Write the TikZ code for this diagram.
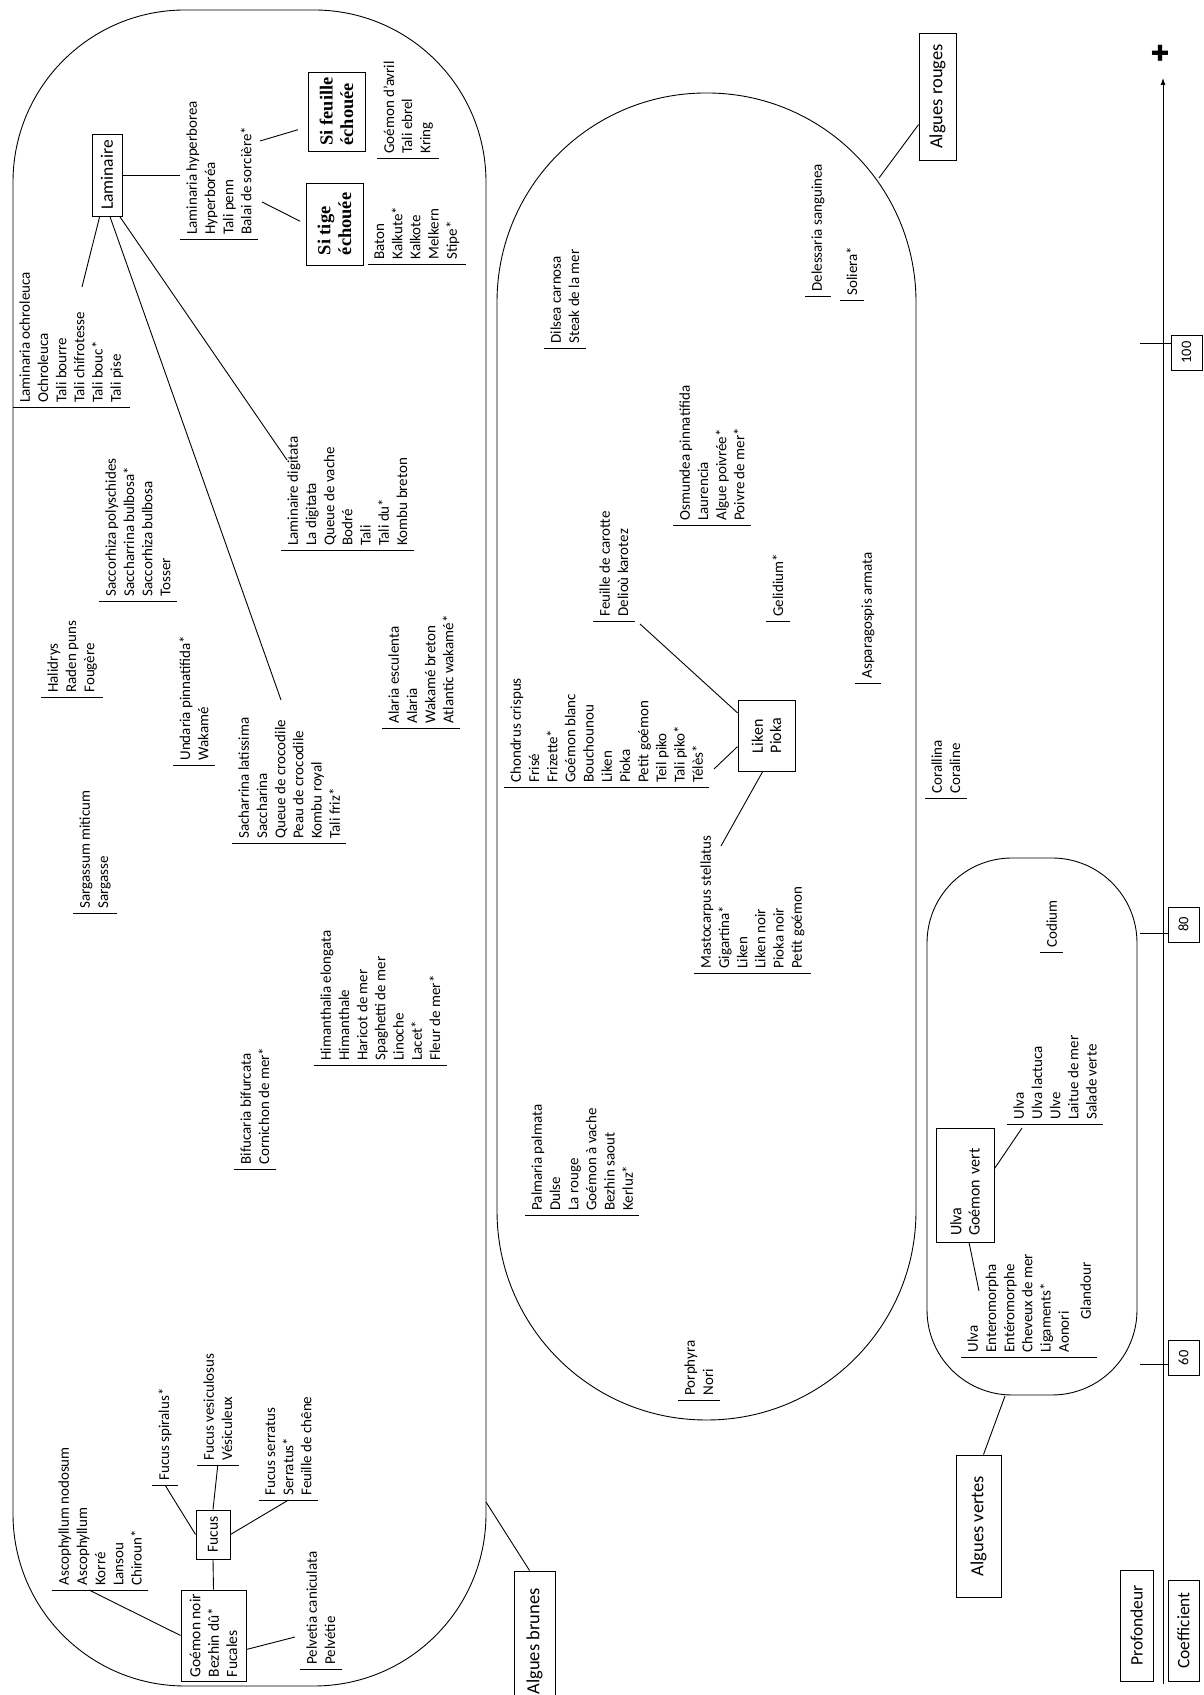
\documentclass[tikz,border=0pt]{standalone}
\usepackage{fontspec}
\setmainfont{Carlito}
\newfontfamily\tigefont{Liberation Serif}
\newfontfamily\crossfont{DejaVu Sans}
\usetikzlibrary{arrows.meta}

\tikzset{
  lst/.style={anchor=north west, align=left, inner xsep=4pt, inner ysep=6pt,
    font=\fontsize{15}{18.2}\selectfont,
    append after command={(\tikzlastnode.north west) edge (\tikzlastnode.south west)}},
  bx/.style={draw, inner xsep=0pt, inner ysep=0pt, align=left, font=\fontsize{15.5}{18.3}\selectfont},
  lbl/.style={draw, inner sep=0pt, align=center, font=\fontsize{18.5}{22}\selectfont},
  cond/.style={draw, inner sep=0pt, align=left, font=\tigefont\bfseries\fontsize{18.4}{20.7}\selectfont},
  tickbox/.style={draw, inner sep=0pt, minimum width=35pt, minimum height=31pt, font=\fontsize{14.5}{17}\selectfont}
}

\begin{document}
\begin{tikzpicture}[x=1pt, y=-1pt, rotate=90, transform shape, line width=0.9pt]
\useasboundingbox (0,0) rectangle (1695,1203);

%##################################################### groups
\draw[rounded corners=172pt] (9,13) rectangle (1685,486);
\draw[rounded corners=209pt] (275,497) rectangle (1602,916);
\draw[rounded corners=85pt] (300,927) rectangle (837,1137);

\node[lbl, minimum width=141pt, minimum height=41pt] (bruneslbl) at (53.5,534.5) {Algues brunes};
\node[lbl, minimum width=127pt, minimum height=37pt] (rougeslbl) at (1598.5,937.5) {Algues rouges};
\node[lbl, minimum width=142pt, minimum height=45pt] (verteslbl) at (169,978.5) {Algues vertes};
\coordinate (c_brunes) at (193,486);
\coordinate (c_rouges) at (1517,879);
\coordinate (c_vertes) at (299,1005);
\draw (bruneslbl.4) -- (c_brunes);
\draw (rougeslbl.146) -- (c_rouges);
\draw (verteslbl.356) -- (c_vertes);

%##################################################### algues brunes
\node[bx, minimum width=91pt, minimum height=65pt] (noir) at (59.5,213.5) {Goémon noir\\Bezhin dû*\\Fucales};
\node[bx, align=center, minimum width=49pt, minimum height=34pt] (fucus) at (160.5,213) {Fucus};
\node[bx, align=center, minimum width=82pt, minimum height=30pt, font=\fontsize{17.5}{20}\selectfont] (lam) at (1520,107) {Laminaire};
\node[cond, minimum width=82pt, minimum height=57pt] (tige) at (1471,334.5) {Si tige\\échouée};
\node[cond, minimum width=79pt, minimum height=57pt] (feuille) at (1583.5,336.5) {Si feuille\\échouée};

\node[lst] (asco) at (105,52) {Ascophyllum nodosum\\Ascophyllum\\Korré\\Lansou\\Chiroun*};
\node[lst] (spiralus) at (210,152) {Fucus spiralus*};
\node[lst] (vesic) at (230,197) {Fucus vesiculosus\\Vésiculeux};
\node[lst] (serratus) at (195,259) {Fucus serratus\\Serratus*\\Feuille de chêne};
\node[lst] (pelvetia) at (26,300) {Pelvetia caniculata\\Pelvétie};
\node[lst] (bifuc) at (526,234) {Bifucaria bifurcata\\Cornichon de mer*};
\node[lst] (himanth) at (630,314) {Himanthalia elongata\\Himanthale\\Haricot de mer\\Spaghetti de mer\\Linoche\\Lacet*\\Fleur de mer*};
\node[lst] (sargassum) at (782,73) {Sargassum miticum\\Sargasse};
\node[lst] (latissima) at (852,232) {Sacharrina latissima\\Saccharina\\Queue de crocodile\\Peau de crocodile\\Kombu royal\\Tali friz*};
\node[lst] (undaria) at (930,173) {Undaria pinnatifida*\\Wakamé};
\node[lst] (alaria) at (967,382) {Alaria esculenta\\Alaria\\Wakamé breton\\Atlantic wakamé*};
\node[lst] (halidrys) at (998,41) {Halidrys\\Raden puns\\Fougère};
\node[lst] (saccorh) at (1094,99) {Saccorhiza polyschides\\Saccharrina bulbosa*\\Saccorhiza bulbosa\\Tosser};
\node[lst] (digitata) at (1145,281) {Laminaire digitata\\La digitata\\Queue de vache\\Bodré\\Tali\\Tali du*\\Kombu breton};
\node[lst] (ochro) at (1288,13) {Laminaria ochroleuca\\Ochroleuca\\Tali bourre\\Tali chifrotesse\\Tali bouc*\\Tali pise};
\node[lst] (hyper) at (1456,180) {Laminaria hyperborea\\Hyperboréa\\Tali penn\\Balai de sorcière*};
\node[lst] (tigelst) at (1431,368) {Baton\\Kalkute*\\Kalkote\\Melkern\\Stipe*};
\node[lst] (feuillelst) at (1537,377) {Goémon d'avril\\Tali ebrel\\Kring};

\coordinate (c_asco) at (105,89);
\coordinate (c_pelv) at (58,295);
\coordinate (c_ochro) at (1408,82);
\coordinate (c_latis) at (995,281);
\coordinate (c_digit) at (1235,287);
\coordinate (c_tige) at (1493,262);
\coordinate (c_feuille) at (1554,260);
\draw (noir.north) -- (c_asco);
\draw (noir.east) -- (fucus.west);
\draw (noir.247) -- (c_pelv);
\draw (fucus.north) -- (spiralus.west);
\draw (fucus.east) -- (vesic.west);
\draw (fucus.south) -- (serratus.west);
\draw (lam.170) -- (c_ochro);
\draw (lam.184) -- (c_latis);
\draw (lam.197) -- (c_digit);
\draw (lam.south) -- (lam.south |- hyper.north);
\draw[shorten >=6pt] (c_tige) -- (tige.north);
\draw[shorten >=10pt] (c_feuille) -- (feuille.118);

%##################################################### algues rouges
\node[bx, minimum width=71pt, minimum height=57pt, font=\fontsize{16}{18.3}\selectfont] (liken) at (959.5,766.5) {Liken\\Pioka};

\node[lst] (porphyra) at (295,678) {Porphyra\\Nori};
\node[lst] (palmaria) at (480,525) {Palmaria palmata\\Dulse\\La rouge\\Goémon à vache\\Bezhin saout\\Kerluz*};
\node[lst] (mastoc) at (722,694) {Mastocarpus stellatus\\Gigartina*\\Liken\\Liken noir\\Pioka noir\\Petit goémon};
\node[lst] (corallina) at (897,925) {Corallina\\Coraline};
\node[lst] (chondrus) at (908,504) {Chondrus crispus\\Frisé\\Frizette*\\Goémon blanc\\Bouchounou\\Liken\\Pioka\\Petit goémon\\Teil piko\\Tali piko*\\Télès*};
\node[lst] (aspar) at (1012,855) {Asparagospis armata};
\node[lst] (carotte) at (1074,593) {Feuille de carotte\\Delioù karotez};
\node[lst] (gelidium) at (1074,766) {Gelidium*};
\node[lst] (osmundea) at (1170,673) {Osmundea pinnatifida\\Laurencia\\Algue poivrée*\\Poivre de mer*};
\node[lst] (dilsea) at (1347,544) {Dilsea carnosa\\Steak de la mer};
\node[lst] (soliera) at (1395,840) {Soliera*};
\node[lst] (deless) at (1399,805) {Delessaria sanguinea};

\coordinate (c_carot) at (1071,640);
\coordinate (c_chond) at (926,714);
\coordinate (c_masto) at (849,721);
\draw (liken.52) -- (c_carot);
\draw (liken.111) -- (c_chond);
\draw (liken.174) -- (c_masto);

%##################################################### algues vertes
\node[bx, inner xsep=6pt, text width=102pt, minimum height=58pt, font=\fontsize{16}{18.3}\selectfont] (ulvabox) at (510,965) {Ulva\\Goémon vert};

\node[lst] (entero) at (338,961) {Ulva\\Enteromorpha\\Entéromorphe\\Cheveux de mer\\Ligaments*\\Aonori\\[3.8pt]\hspace*{33pt}Glandour};
\node[lst] (ulvalst) at (571,1007) {Ulva\\Ulva lactuca\\Ulve\\Laitue de mer\\Salade verte};
\node[lst] (codium) at (743,1040) {Codium};

\coordinate (c_ulva) at (567,1022);
\coordinate (c_entero) at (404,979);
\draw (ulvabox.299) -- (c_ulva);
\draw (ulvabox.184) -- (c_entero);

%##################################################### axis
\coordinate (a0) at (11,1163);
\coordinate (a1) at (1617,1163);
\draw[-{Latex[length=7pt,width=5pt]}] (a0) -- (a1);
\node[inner sep=0pt, font=\crossfont\fontsize{22}{22}\selectfont] (plus) at (1642,1160) {✚};

\node[lbl, minimum width=111pt, minimum height=33pt, font=\fontsize{17.5}{20}\selectfont] (prof) at (69.5,1136.5) {Profondeur};
\node[lbl, minimum width=101pt, minimum height=31pt, font=\fontsize{17.5}{20}\selectfont] (coef) at (64.5,1183.5) {Coefficient};

\node[tickbox] (b60) at (337,1183.5) {60};
\node[tickbox] (b80) at (770.5,1183.5) {80};
\node[tickbox] (b100) at (1342.5,1186.5) {100};
\coordinate (t60) at (331,1140);
\coordinate (t80) at (762,1140);
\coordinate (t100) at (1352,1140);
\draw (t60) -- (t60 |- b60.north);
\draw (t80) -- (t80 |- b80.north);
\draw (t100) -- (t100 |- b100.north);
\end{tikzpicture}
\end{document}
